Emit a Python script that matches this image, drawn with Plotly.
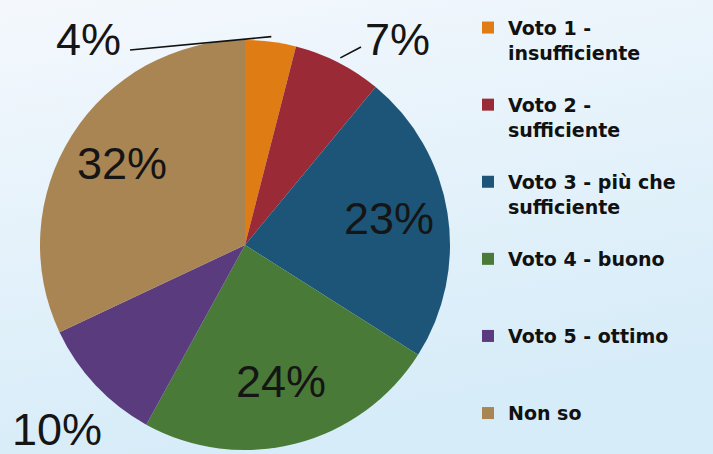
import math
import plotly.graph_objects as go

labels = ["Voto 1 -<br>insufficiente", "Voto 2 -<br>sufficiente",
          "Voto 3 - più che<br>sufficiente", "Voto 4 - buono",
          "Voto 5 - ottimo", "Non so"]
values = [4, 7, 23, 24, 10, 32]
colors = ["#e07c14", "#9a2a36", "#1c5577", "#4a7a38", "#5a3b7e", "#a88552"]
label_inside = [False, False, True, True, False, True]

W, H = 713, 454
CX, CY, R = 245, 245, 205
FONT = "Liberation Sans, Arial"
PCT_SIZE = 45

# legend labels: pad so the swatch sits on the first text line
legend_labels = []
for lab in labels:
    parts = lab.split("<br>")
    if len(parts) == 1:
        parts = parts + [" "]
    legend_labels.append(" <br>" + "<br>".join(parts))

fig = go.Figure(go.Pie(
    labels=legend_labels,
    values=values,
    sort=False,
    direction="clockwise",
    rotation=0,
    marker=dict(colors=colors, line=dict(width=0)),
    textinfo="none",
    domain=dict(x=[(CX - R) / W, (CX + R) / W],
                y=[(H - (CY + R)) / H, (H - (CY - R)) / H]),
    showlegend=True,
))

total = sum(values)


def mid_angle(i):
    start = sum(values[:i]) / total
    return (start + values[i] / total / 2) * 2 * math.pi


def polar_px(i, r):
    a = mid_angle(i)
    return CX + r * math.sin(a), CY - r * math.cos(a)


def pct(i):
    return f"{round(values[i] / total * 100)}%"


annotations = []
shapes = []
# inside labels on slice mid-angles
for i, inside in enumerate(label_inside):
    if inside:
        px, py = polar_px(i, 0.71 * R)
        annotations.append(dict(
            x=px / W, y=1 - (py - 4) / H, xref="paper", yref="paper",
            xanchor="center", yanchor="middle",
            text=pct(i), showarrow=False,
            font=dict(family=FONT, size=PCT_SIZE, color="#151515")))

# outside labels: (slice, label centre, leader start near label or None)
outside = [(0, (88, 39), (130, 50)), (1, (397, 39), (361, 47)), (4, (57, 429), None)]
for i, (tx, ty), lead in outside:
    annotations.append(dict(
        x=tx / W, y=1 - ty / H, xref="paper", yref="paper",
        xanchor="center", yanchor="middle",
        text=pct(i), showarrow=False,
        font=dict(family=FONT, size=PCT_SIZE, color="#151515")))
    if lead:
        ex, ey = polar_px(i, R + 5)
        shapes.append(dict(type="line", xref="paper", yref="paper",
                           x0=lead[0] / W, y0=1 - lead[1] / H,
                           x1=ex / W, y1=1 - ey / H,
                           line=dict(color="#111", width=1.6)))

gradient_svg = (
    "data:image/svg+xml;utf8,"
    "<svg xmlns='http://www.w3.org/2000/svg' width='713' height='454'>"
    "<defs><linearGradient id='g' x1='0' y1='0' x2='0.3' y2='1'>"
    "<stop offset='0' stop-color='%23f4f8fd'/><stop offset='1' stop-color='%23d6ecf8'/>"
    "</linearGradient></defs><rect width='713' height='454' fill='url(%23g)'/></svg>"
)

fig.update_layout(
    width=W, height=H,
    margin=dict(l=0, r=0, t=0, b=0, autoexpand=False),
    paper_bgcolor="#e6f1f9",
    plot_bgcolor="rgba(0,0,0,0)",
    images=[dict(source=gradient_svg, xref="paper", yref="paper", x=0, y=1,
                 sizex=1, sizey=1, xanchor="left", yanchor="top",
                 sizing="stretch", layer="below")],
    legend=dict(
        x=468 / W, y=1 + 16 / H, xanchor="left", yanchor="top",
        font=dict(family="DejaVu Sans", size=19, color="#111", weight="bold"),
        itemwidth=30, bgcolor="rgba(0,0,0,0)", traceorder="normal",
        maxheight=700,
    ),
    annotations=annotations,
    shapes=shapes,
)

fig.write_html("out.html")
